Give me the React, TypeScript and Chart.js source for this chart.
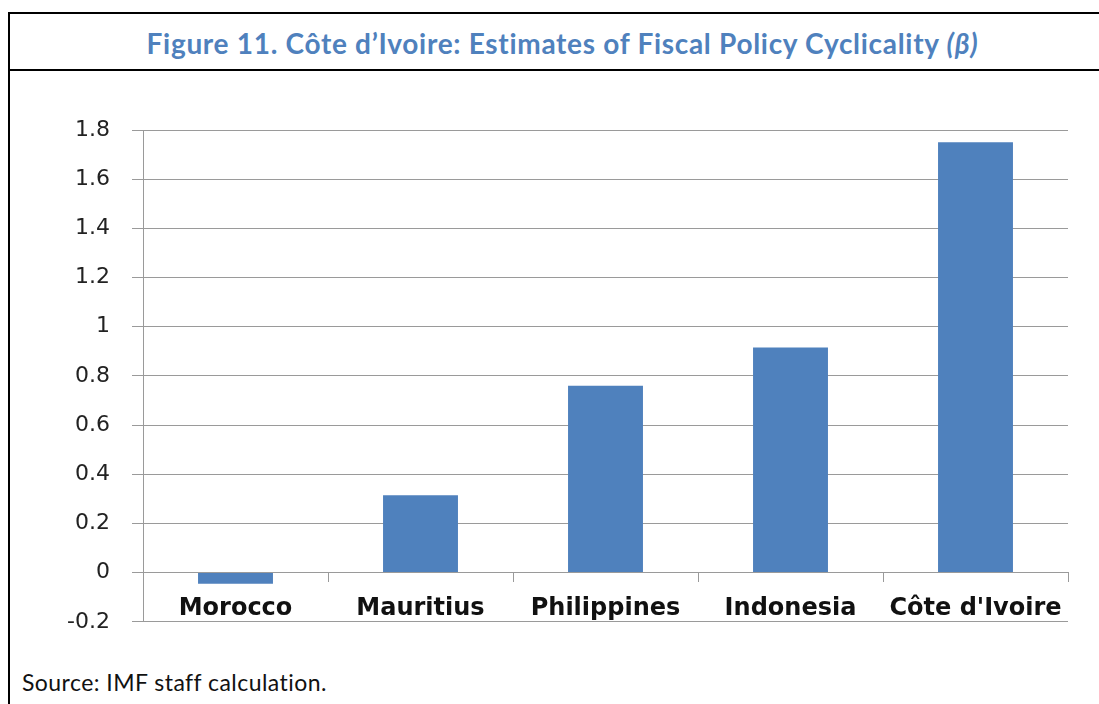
import React, { useEffect, useRef } from "react";
import { Chart, registerables } from "chart.js";

Chart.register(...registerables);

const categories = ["Morocco", "Mauritius", "Philippines", "Indonesia", "Côte d'Ivoire"];
const betaValues = [-0.045, 0.315, 0.76, 0.915, 1.75];
const yTickValues = [-0.2, 0, 0.2, 0.4, 0.6, 0.8, 1, 1.2, 1.4, 1.6, 1.8];
const yTickLabels = ["-0.2", "0", "0.2", "0.4", "0.6", "0.8", "1", "1.2", "1.4", "1.6", "1.8"];

const titleText = "Figure 11. Côte d’Ivoire: Estimates of Fiscal Policy Cyclicality ";
const titleBeta = "(β)";
const sourceText = "Source: IMF staff calculation.";

const BAR_COLOR = "#4F81BD";
const GRID_COLOR = "#9a9a9a";

export default function App() {
  const canvasRef = useRef<HTMLCanvasElement | null>(null);

  useEffect(() => {
    if (!canvasRef.current) return;
    const chart = new Chart(canvasRef.current, {
      type: "bar",
      data: {
        labels: categories,
        datasets: [
          {
            data: betaValues,
            backgroundColor: BAR_COLOR,
            borderWidth: 0,
            categoryPercentage: 1,
            barPercentage: 0.405,
          },
        ],
      },
      options: {
        animation: false,
        responsive: false,
        maintainAspectRatio: false,
        layout: { padding: { left: 0, right: 31, top: 50, bottom: 2 } },
        plugins: {
          legend: { display: false },
          tooltip: { enabled: false },
          title: { display: false },
        },
        scales: {
          x: {
            position: { y: 0 } as any,
            grid: {
              offset: true,
              drawOnChartArea: false,
              drawTicks: true,
              tickLength: 9,
              color: (ctx: any) => (ctx.index === categories.length ? "rgba(0,0,0,0)" : GRID_COLOR),
              lineWidth: 1,
            },
            border: { display: true, color: GRID_COLOR, width: 1 },
            ticks: {
              color: "#111",
              padding: 13,
              maxRotation: 0,
              autoSkip: false,
              font: { family: "'DejaVu Sans', Verdana, sans-serif", size: 24, weight: "bold" },
            },
          },
          y: {
            min: -0.2,
            max: 1.8,
            afterBuildTicks: (axis: any) => {
              axis.ticks = yTickValues.map((v) => ({ value: v }));
            },
            afterFit: (axis: any) => {
              axis.width = 143;
            },
            grid: {
              color: GRID_COLOR,
              lineWidth: 1,
              tickLength: 11,
              drawTicks: true,
            },
            border: { display: true, color: GRID_COLOR, width: 1 },
            ticks: {
              color: "#222",
              padding: 22,
              font: { family: "'DejaVu Sans', Verdana, sans-serif", size: 22 },
              callback: (_v: any, i: number) => yTickLabels[i],
            },
          },
        },
      },
    });
    return () => chart.destroy();
  }, []);

  return (
    <div
      style={{
        position: "fixed",
        left: 0,
        top: 0,
        width: 1099,
        height: 704,
        overflow: "hidden",
        background: "#fff",
      }}
    >
      <div
        style={{
          position: "absolute",
          left: 8,
          top: 12,
          width: 1107,
          height: 720,
          borderLeft: "2px solid #000",
          borderTop: "2px solid #000",
          boxSizing: "border-box",
        }}
      >
        <div
          style={{
            height: 55,
            borderBottom: "2px solid #000",
            textAlign: "center",
            lineHeight: "58px",
            fontFamily: "Lato, 'Open Sans', sans-serif",
            fontWeight: 700,
            fontSize: 28,
            letterSpacing: "0.7px",
            color: BAR_COLOR,
            whiteSpace: "nowrap",
          }}
        >
          {titleText}
          <i>{titleBeta}</i>
        </div>
      </div>
      <canvas
        ref={canvasRef}
        width={1099}
        height={577}
        style={{ position: "absolute", left: 0, top: 80, width: 1099, height: 577 }}
      />
      <div
        style={{
          position: "absolute",
          left: 22,
          top: 668,
          fontFamily: "Lato, 'Open Sans', sans-serif",
          fontSize: 23,
          letterSpacing: "0.45px",
          color: "#111",
          whiteSpace: "nowrap",
        }}
      >
        {sourceText}
      </div>
    </div>
  );
}
